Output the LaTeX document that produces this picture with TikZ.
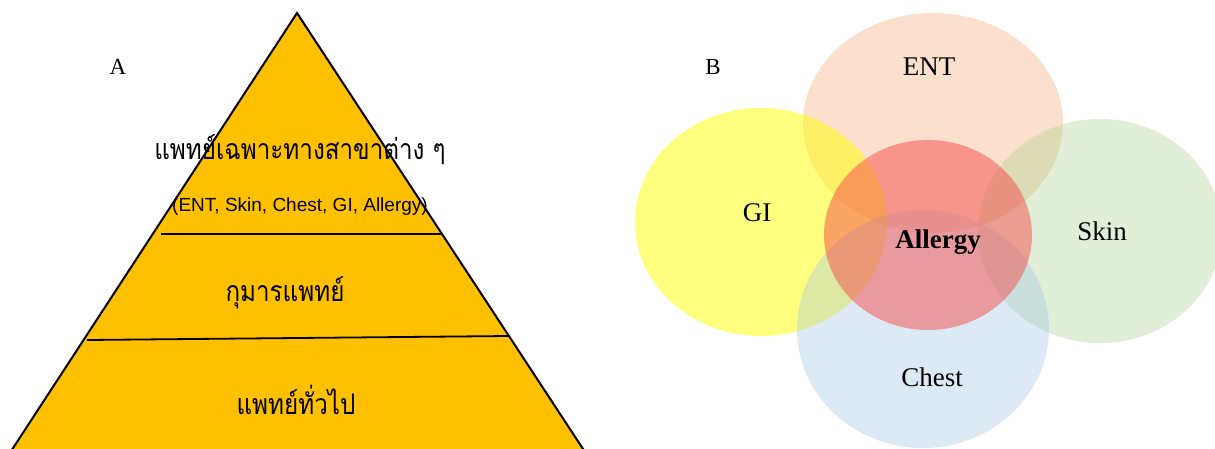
\documentclass[tikz,border=0pt]{standalone}
\usepackage{fontspec}
\usepackage{graphicx}
\setmainfont{Liberation Serif}
\newfontfamily\thaifont[Script=Thai]{Loma}
\newfontfamily\arialfont{Liberation Sans}
\definecolor{pyr}{HTML}{FFC000}
\definecolor{entc}{HTML}{F4B183}
\definecolor{gic}{HTML}{FFFF00}
\definecolor{skinc}{HTML}{A9D18E}
\definecolor{chestc}{HTML}{9DC3E6}
\definecolor{allc}{RGB}{246,75,72}
\newcommand{\thaitext}[1]{\scalebox{0.85}[1]{#1}}
\begin{document}
\begin{tikzpicture}[x=1pt,y=-1pt,
  lbl/.style={font=\fontsize{27}{32}\selectfont, inner sep=0pt},
  ab/.style={font=\fontsize{23}{28}\selectfont, inner sep=0pt},
  thai/.style={font=\thaifont\fontsize{28.5}{32}\selectfont, inner sep=0pt},
  sub/.style={font=\arialfont\fontsize{19}{22}\selectfont, inner sep=0pt},
  tier/.style={line width=1.8pt, black}]
\useasboundingbox (0,0) rectangle (1215,448);
\clip (0,0) rectangle (1215,448);
% Pyramid
\coordinate (apex) at (297,13);
\coordinate (bl) at (8.5,455);
\coordinate (br) at (587,455);
\filldraw[fill=pyr, draw=black, line width=2pt, line join=miter] (bl) -- (apex) -- (br) -- cycle;
\coordinate (l1a) at (161,234);
\coordinate (l1b) at (441,234);
\coordinate (l2a) at (87,340);
\coordinate (l2b) at (508,336);
\draw[tier] (l1a) -- (l1b);
\draw[tier] (l2a) -- (l2b);
\node[ab] (A) at (118,67) {A};
\node[thai] (t1) at (300,150) {\thaitext{แพทย์เฉพาะทางสาขาต่าง ๆ}};
\node[sub] (t1b) at (300,207) {(ENT, Skin, Chest, GI, Allergy)};
\node[thai] (t2) at (285,293) {\thaitext{กุมารแพทย์}};
\node[thai] (t3) at (296,400) {\thaitext{แพทย์ทั่วไป}};
% Venn
\fill[entc, fill opacity=0.4] (933,123) ellipse [x radius=130pt, y radius=110pt];
\fill[gic, fill opacity=0.5] (761,222) ellipse [x radius=126pt, y radius=114pt];
\fill[skinc, fill opacity=0.35] (1100,231) ellipse [x radius=122pt, y radius=112pt];
\fill[chestc, fill opacity=0.35] (923,329) ellipse [x radius=126pt, y radius=119pt];
\fill[allc, fill opacity=0.5] (928,235) ellipse [x radius=104pt, y radius=95pt];
\node[ab] (B) at (713,67) {B};
\node[lbl] (ent) at (929,67) {ENT};
\node[lbl] (gi) at (757,213) {GI};
\node[lbl] (skin) at (1102,231) {Skin};
\node[lbl] (chest) at (932,377) {Chest};
\node[lbl, font=\bfseries\fontsize{27}{32}\selectfont] (all) at (938,242) {Allergy};
\end{tikzpicture}
\end{document}
